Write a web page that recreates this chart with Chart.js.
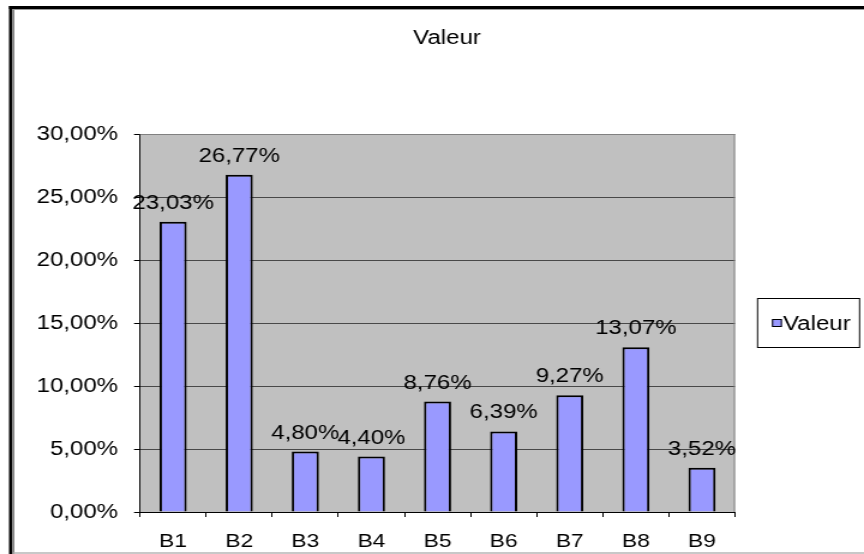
<!DOCTYPE html>
<html>
<head>
<meta charset="utf-8">
<script src="https://cdn.jsdelivr.net/npm/chart.js@4"></script>
<style>
  html, body { margin: 0; padding: 0; background: #fff; overflow: hidden; }
  /* the chart is laid out at 720px and widened to 864px, like the original sheet export */
  #chart { display: block; transform: scaleX(1.2); transform-origin: 0 0; }
</style>
</head>
<body>
<canvas id="chart" width="720" height="554"></canvas>
<script>
const categories = ['B1', 'B2', 'B3', 'B4', 'B5', 'B6', 'B7', 'B8', 'B9'];
const values = [23.03, 26.77, 4.80, 4.40, 8.76, 6.39, 9.27, 13.07, 3.52];
const yTickValues = [0, 5, 10, 15, 20, 25, 30];
const seriesName = 'Valeur';
const chartTitle = 'Valeur';

const FONT = '"Liberation Sans", Arial, sans-serif';
const pct = v => v.toFixed(2).replace('.', ',') + '%';

/* frame, plot background, title, legend box and value labels */
const sheetDecor = {
  id: 'sheetDecor',
  beforeDraw(chart){
    const { ctx, width, height, chartArea: a } = chart;
    ctx.save();
    ctx.fillStyle = '#fff';
    ctx.fillRect(0, 0, width, height);
    // outer frame: heavy top and left edges, light bottom edge
    ctx.fillStyle = '#000';
    ctx.fillRect(7.5, 6, width, 3);
    ctx.fillRect(7.5, 6, 2.5, height);
    ctx.fillRect(10.6, 9, 0.9, height);
    ctx.fillStyle = '#9a9a9a';
    ctx.fillRect(10, 9, width, 1);
    ctx.fillStyle = '#c8c8c8';
    ctx.fillRect(11.5, height - 2, width, 2);
    // plot area
    ctx.fillStyle = '#c0c0c0';
    ctx.fillRect(a.left, a.top, a.right - a.left, a.bottom - a.top);
    // title
    ctx.fillStyle = '#000';
    ctx.font = '20px ' + FONT;
    ctx.textAlign = 'center';
    ctx.textBaseline = 'middle';
    ctx.fillText(chartTitle, 372.5, 38);
    ctx.restore();
  },
  beforeDatasetsDraw(chart){
    const { ctx, chartArea: a } = chart;
    ctx.save();
    ctx.strokeStyle = '#808080';
    ctx.lineWidth = 1;
    ctx.beginPath();
    ctx.moveTo(a.left, a.top + 0.5);
    ctx.lineTo(a.right - 0.5, a.top + 0.5);
    ctx.lineTo(a.right - 0.5, a.bottom);
    ctx.stroke();
    ctx.restore();
  },
  afterDatasetsDraw(chart){
    const { ctx } = chart;
    const meta = chart.getDatasetMeta(0);
    ctx.save();
    ctx.fillStyle = '#000';
    ctx.font = '20px ' + FONT;
    ctx.textAlign = 'center';
    ctx.textBaseline = 'alphabetic';
    meta.data.forEach((bar, i) => {
      ctx.fillText(pct(values[i]), bar.x, bar.y - 13);
    });
    ctx.restore();
  },
  afterDraw(chart){
    const { ctx } = chart;
    const ds = chart.data.datasets[0];
    ctx.save();
    // legend box
    ctx.fillStyle = '#fff';
    ctx.fillRect(630.8, 298, 85.9, 50);
    ctx.strokeStyle = '#000';
    ctx.lineWidth = 1;
    ctx.strokeRect(631.3, 298.5, 85, 49);
    ctx.fillStyle = ds.backgroundColor;
    ctx.fillRect(643.3, 319, 8.3, 8);
    ctx.strokeRect(643.8, 319.5, 7.3, 7);
    ctx.fillStyle = '#000';
    ctx.font = '20px ' + FONT;
    ctx.textAlign = 'left';
    ctx.textBaseline = 'middle';
    ctx.fillText(ds.label, 652.5, 324);
    ctx.restore();
  }
};

new Chart(document.getElementById('chart'), {
  type: 'bar',
  data: {
    labels: categories,
    datasets: [{
      label: seriesName,
      data: values,
      backgroundColor: '#9999ff',
      borderColor: '#000',
      borderWidth: 2,
      barPercentage: 0.41,
      categoryPercentage: 1
    }]
  },
  options: {
    responsive: false,
    animation: false,
    layout: { padding: { top: 134, right: 107.5, bottom: 0, left: 0 } },
    plugins: {
      legend: { display: false },
      title: { display: false },
      tooltip: { enabled: false }
    },
    scales: {
      x: {
        afterFit(scale){ scale.height = 42; },
        grid: { drawOnChartArea: false, drawTicks: true, tickLength: 5, tickColor: '#000', offset: true },
        border: { display: true, color: '#000', width: 1 },
        ticks: { color: '#000', padding: 13, font: { family: FONT, size: 19 } }
      },
      y: {
        min: 0,
        max: 30,
        afterFit(scale){ scale.width = 116.7; },
        afterBuildTicks(scale){ scale.ticks = yTickValues.map(v => ({ value: v })); },
        grid: { color: '#484848', lineWidth: 1, drawTicks: true, tickLength: 5, tickColor: '#000' },
        border: { display: true, color: '#000', width: 1 },
        ticks: { color: '#000', padding: 13.3, font: { family: FONT, size: 20 }, callback: v => pct(v) }
      }
    }
  },
  plugins: [sheetDecor]
});
</script>
</body>
</html>
